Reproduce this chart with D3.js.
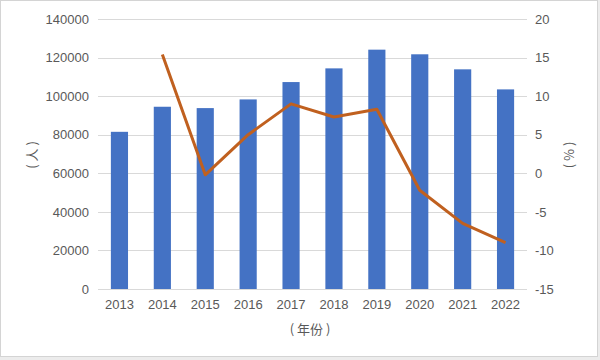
<!DOCTYPE html>
<html>
<head>
<meta charset="utf-8">
<script src="https://cdn.jsdelivr.net/npm/d3@7"></script>
<style>
  body { margin: 0; background: #fff; }
  svg { display: block; }
</style>
</head>
<body>
<svg id="chart"></svg>
<script>
// Data
const years = ["2013", "2014", "2015", "2016", "2017", "2018", "2019", "2020", "2021", "2022"];
const people = [81500, 94500, 93800, 98300, 107300, 114400, 124100, 121700, 113900, 103500];
const growth = [null, 15.4, -0.2, 5.0, 9.0, 7.3, 8.3, -2.2, -6.5, -9.0];
const leftTicks = [0, 20000, 40000, 60000, 80000, 100000, 120000, 140000];
const rightTicks = [-15, -10, -5, 0, 5, 10, 15, 20];

const W = 600, H = 360;
const margin = { top: 19, right: 73, bottom: 71, left: 98 };

const svg = d3.select("#chart").attr("width", W).attr("height", H);
const numFont = "'Liberation Sans', Arial, sans-serif";
const cjkFont = "'Noto Sans CJK SC', 'Noto Sans', sans-serif";
const textColor = "#595959";

// frame
svg.append("rect").attr("width", W).attr("height", H).attr("fill", "#ececec");
svg.append("rect")
    .attr("x", 0.5).attr("y", 0.5)
    .attr("width", 597).attr("height", 356)
    .attr("fill", "#fff")
    .attr("stroke", "#d4d4d4");

const x = d3.scaleBand()
    .domain(years)
    .range([margin.left, W - margin.right])
    .paddingInner(0.6)
    .paddingOuter(0.3);

const yL = d3.scaleLinear().domain([0, 140000]).range([H - margin.bottom, margin.top]);
const yR = d3.scaleLinear().domain([-15, 20]).range([H - margin.bottom, margin.top]);

// gridlines
svg.append("g")
    .selectAll("line")
    .data(leftTicks)
    .join("line")
    .attr("x1", margin.left)
    .attr("x2", W - margin.right)
    .attr("y1", d => Math.round(yL(d)) + 0.5)
    .attr("y2", d => Math.round(yL(d)) + 0.5)
    .attr("stroke", "#d9d9d9")
    .attr("stroke-width", 1);

// left axis
const leftAxis = svg.append("g")
    .attr("transform", `translate(${margin.left - 9},0)`)
    .call(d3.axisLeft(yL).tickValues(leftTicks).tickSize(0).tickPadding(0).tickFormat(d => String(d)));
leftAxis.select(".domain").remove();
leftAxis.selectAll("text")
    .attr("fill", textColor)
    .style("font-family", numFont)
    .style("font-size", "13px");

// right axis - plain hyphen for negatives like the source
const rightAxis = svg.append("g")
    .attr("transform", `translate(${W - margin.right + 8},0)`)
    .call(d3.axisRight(yR).tickValues(rightTicks).tickSize(0).tickPadding(0).tickFormat(d => String(d)));
rightAxis.select(".domain").remove();
rightAxis.selectAll("text")
    .attr("fill", textColor)
    .style("font-family", numFont)
    .style("font-size", "13px");

// bars
svg.append("g")
    .selectAll("rect")
    .data(people)
    .join("rect")
    .attr("x", (d, i) => x(years[i]))
    .attr("y", d => yL(d))
    .attr("width", x.bandwidth())
    .attr("height", d => yL(0) - yL(d))
    .attr("fill", "#4472c4");

// bottom axis
const bottomAxis = svg.append("g")
    .attr("transform", `translate(0,${H - margin.bottom})`)
    .call(d3.axisBottom(x).tickSize(0).tickPadding(11));
bottomAxis.select(".domain")
    .attr("stroke", "#d9d9d9")
    .attr("d", `M${margin.left},0.5H${W - margin.right}`);
bottomAxis.selectAll("text")
    .attr("fill", textColor)
    .style("font-family", numFont)
    .style("font-size", "13px");

// growth line
const line = d3.line()
    .defined(d => d != null)
    .x((d, i) => x(years[i]) + x.bandwidth() / 2)
    .y(d => yR(d));

svg.append("path")
    .datum(growth)
    .attr("d", line)
    .attr("fill", "none")
    .attr("stroke", "#c0601f")
    .attr("stroke-width", 3)
    .attr("stroke-linejoin", "round");

// axis titles
svg.append("text")
    .attr("transform", `translate(31,155) rotate(-90)`)
    .attr("text-anchor", "middle")
    .attr("dominant-baseline", "central")
    .attr("fill", textColor)
    .style("font-family", cjkFont)
    .style("font-size", "13px")
    .text("( 人 )");

svg.append("text")
    .attr("transform", `translate(568,155) rotate(-90)`)
    .attr("text-anchor", "middle")
    .attr("dominant-baseline", "central")
    .attr("fill", textColor)
    .style("font-family", cjkFont)
    .style("font-size", "13px")
    .text("( % )");

svg.append("text")
    .attr("x", 310)
    .attr("y", 328)
    .attr("text-anchor", "middle")
    .attr("dominant-baseline", "central")
    .attr("fill", textColor)
    .style("font-family", cjkFont)
    .style("font-size", "13px")
    .text("( 年份 )");
</script>
</body>
</html>
